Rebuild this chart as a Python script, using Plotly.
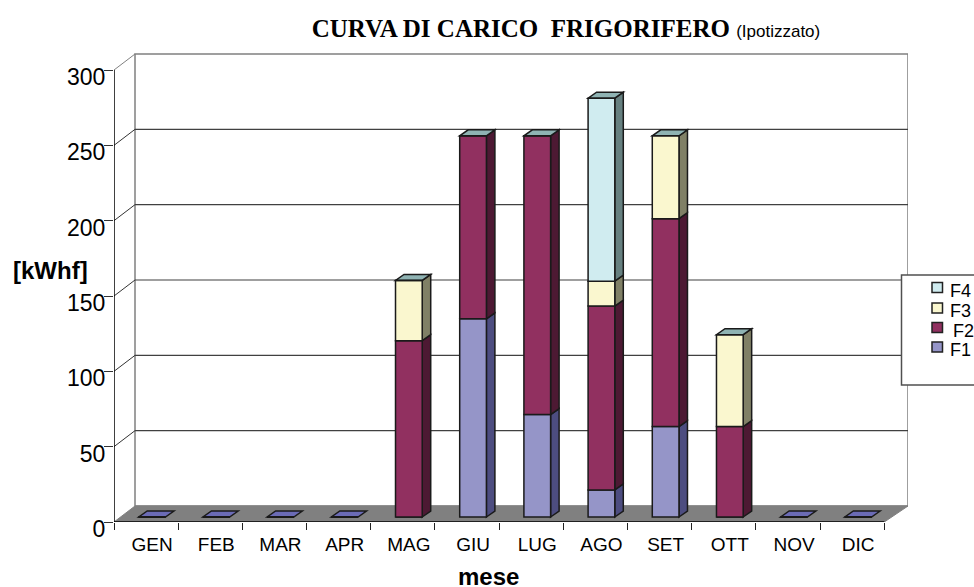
import plotly.graph_objects as go

# ---------- data ----------
MONTHS = ["GEN", "FEB", "MAR", "APR", "MAG", "GIU", "LUG", "AGO", "SET", "OTT", "NOV", "DIC"]
F1 = [0, 0, 0, 0, 0, 131.5, 68, 18, 60, 0, 0, 0]
F2 = [0, 0, 0, 0, 117, 121.5, 185, 122, 138, 60, 0, 0]
F3 = [0, 0, 0, 0, 40, 0, 0, 16.5, 55, 61, 0, 0]
F4 = [0, 0, 0, 0, 0, 0, 0, 121.5, 0, 0, 0, 0]
SERIES = [("F1", F1), ("F2", F2), ("F3", F3), ("F4", F4)]
Y_TICKS = [0, 50, 100, 150, 200, 250, 300]

FRONT = {"F1": "#9595C8", "F2": "#913060", "F3": "#FAF7CF", "F4": "#D0ECF0"}
SIDE = {"F1": "#4D4D80", "F2": "#4D1933", "F3": "#808066", "F4": "#668080"}
TOP = "#8FB3B3"
FLAT = "#6B6BB5"
EDGE = "#1a1a1a"
FONT = "Liberation Sans"

# ---------- pixel geometry of the frame ----------
W, H = 974, 587
X0_PX, X_END_PX, WALL_R_PX = 114.0, 884.3, 908.0
Y0_PX, Y300_PX, WALL_T_PX = 522.0, 70.0, 52.0
PX_PER_CAT = (X_END_PX - X0_PX) / 12
PX_PER_UNIT = (Y0_PX - Y300_PX) / 300
ux = lambda px: px / PX_PER_CAT
uy = lambda px: px / PX_PER_UNIT

X_LO = -0.5
X_HI = X_LO + ux(WALL_R_PX - X0_PX)
Y_HI = uy(Y0_PX - WALL_T_PX)

WALL_DX, WALL_DY = ux(21), uy(16)
BAR_SHIFT_X, BAR_SHIFT_Y = ux(6), uy(5)
BAR_W = ux(26.7)
BAR_DX, BAR_DY = ux(8.5), uy(6)


def poly(points, fill, line="#000000", width=1.5, layer="below"):
    path = "M " + " L ".join(f"{x:.4f} {y:.4f}" for x, y in points) + " Z"
    return dict(type="path", path=path, xref="x", yref="y", fillcolor=fill, layer=layer,
                line=dict(color=line, width=width))


def seg(x0, y0, x1, y1, color, width=1.5):
    return dict(type="line", xref="x", yref="y", x0=x0, y0=y0, x1=x1, y1=y1, layer="below",
                line=dict(color=color, width=width))


shapes = []
# back wall
wall_l = X_LO + WALL_DX
shapes.append(dict(type="rect", xref="x", yref="y", x0=wall_l, x1=X_HI, y0=WALL_DY, y1=Y_TICKS[-1] + WALL_DY,
                   fillcolor="white", layer="below", line=dict(color="#808080", width=1.5)))
# side wall diagonals + grid lines
for v in Y_TICKS[1:]:
    shapes.append(seg(X_LO, v, wall_l, v + WALL_DY, "#808080" if v == 300 else "#333333", 1))
    if v < 300:
        shapes.append(seg(wall_l, v + WALL_DY, X_HI, v + WALL_DY, "#404040", 1.2))
# floor
shapes.append(poly([(X_LO, 0), (wall_l, WALL_DY), (X_HI, WALL_DY), (11.5, 0)], "#808080", "#808080", 1))
# axis lines
shapes.append(seg(X_LO, 0, X_LO, 300, "#000000", 1.5))
shapes.append(seg(X_LO, 0, 11.5, 0, "#000000", 1.5))

# side / top faces
for i in range(len(MONTHS)):
    cx = i + BAR_SHIFT_X
    l, r = cx - BAR_W / 2, cx + BAR_W / 2
    base = BAR_SHIFT_Y
    for name, vals in SERIES:
        v = vals[i]
        if v:
            shapes.append(poly([(r, base), (r + BAR_DX, base + BAR_DY),
                                (r + BAR_DX, base + v + BAR_DY), (r, base + v)], SIDE[name], EDGE))
        base += v
    top_color = TOP if base > BAR_SHIFT_Y else FLAT
    shapes.append(poly([(l, base), (r, base), (r + BAR_DX, base + BAR_DY), (l + BAR_DX, base + BAR_DY)],
                       top_color, EDGE))

# front faces, through the library's bars
fig = go.Figure()
bases = [BAR_SHIFT_Y] * len(MONTHS)
x_pos = [i + BAR_SHIFT_X for i in range(len(MONTHS))]
for name, vals in SERIES:
    fig.add_trace(go.Bar(
        name=name, x=x_pos, y=vals, base=list(bases), width=BAR_W, showlegend=False,
        marker=dict(color=FRONT[name], line=dict(color=EDGE, width=1.5)),
    ))
    bases = [b + v for b, v in zip(bases, vals)]

# legend box (page runs out on the right, as in the reference)
px2x = lambda px: (px - X0_PX) / (WALL_R_PX - X0_PX)
px2y = lambda px: (Y0_PX - px) / (Y0_PX - WALL_T_PX)
shapes.append(dict(type="rect", xref="paper", yref="paper", x0=px2x(901.5), x1=px2x(W + 5),
                   y0=px2y(385), y1=px2y(275), fillcolor="white", layer="above",
                   line=dict(color="#505050", width=1.5)))
annotations = []
LEGEND_ROWS = [("F4", 288.5, 948), ("F3", 309, 948), ("F2", 328.5, 950.5), ("F1", 348, 948)]
for name, y_px, x_px in LEGEND_ROWS:
    shapes.append(dict(type="rect", xref="paper", yref="paper", x0=px2x(932), x1=px2x(942.5),
                       y0=px2y(y_px + 4), y1=px2y(y_px - 6), fillcolor=FRONT[name], layer="above",
                       line=dict(color="#222222", width=1.5)))
    annotations.append(dict(text=name, xref="paper", yref="paper", x=px2x(x_px), y=px2y(y_px + 2),
                            xanchor="left", yanchor="middle", showarrow=False,
                            font=dict(family=FONT, size=18, color="black")))

annotations.append(dict(text="<b>[kWhf]</b>", xref="paper", yref="paper", x=px2x(50), y=px2y(270),
                        xanchor="center", yanchor="middle", showarrow=False,
                        font=dict(family=FONT, size=24, color="black")))
annotations.append(dict(text="<b>mese</b>", xref="paper", yref="paper", x=px2x(488), y=px2y(576),
                        xanchor="center", yanchor="middle", showarrow=False,
                        font=dict(family=FONT, size=24, color="black")))

fig.update_layout(
    width=W, height=H, autosize=False,
    margin=dict(l=X0_PX, r=W - WALL_R_PX, t=WALL_T_PX, b=H - Y0_PX, pad=0),
    paper_bgcolor="white", plot_bgcolor="white",
    barmode="overlay", showlegend=False,
    shapes=shapes, annotations=annotations,
    title=dict(
        text="<b>CURVA DI CARICO  FRIGORIFERO</b> "
             f"<span style='font-family:{FONT};font-size:17px'>(Ipotizzato)</span>",
        x=566 / W, xanchor="center", y=1 - 28 / H, yanchor="middle",
        font=dict(family="Liberation Serif", size=25, color="black"),
    ),
    xaxis=dict(
        range=[X_LO, X_HI], showgrid=False, zeroline=False, showline=False,
        tickmode="array", tickvals=x_pos, ticktext=MONTHS, ticks="", ticklen=0,
        ticklabelstandoff=9, tickangle=0,
        tickfont=dict(family=FONT, size=19, color="black"),
        minor=dict(tickmode="array", tickvals=[i - 0.5 for i in range(13)],
                   ticks="outside", ticklen=7, tickwidth=1, tickcolor="#222222", showgrid=False),
    ),
    yaxis=dict(
        range=[0, Y_HI], showgrid=False, zeroline=False, showline=False,
        tickmode="array", tickvals=Y_TICKS, ticks="outside", ticklen=9, tickwidth=1, tickcolor="#333333",
        ticklabelshift=7, ticklabelstandoff=-6,
        tickfont=dict(family=FONT, size=23, color="black"),
    ),
)

fig.write_html("out.html", config={"displayModeBar": False}, post_script="document.body.style.margin='0';")
